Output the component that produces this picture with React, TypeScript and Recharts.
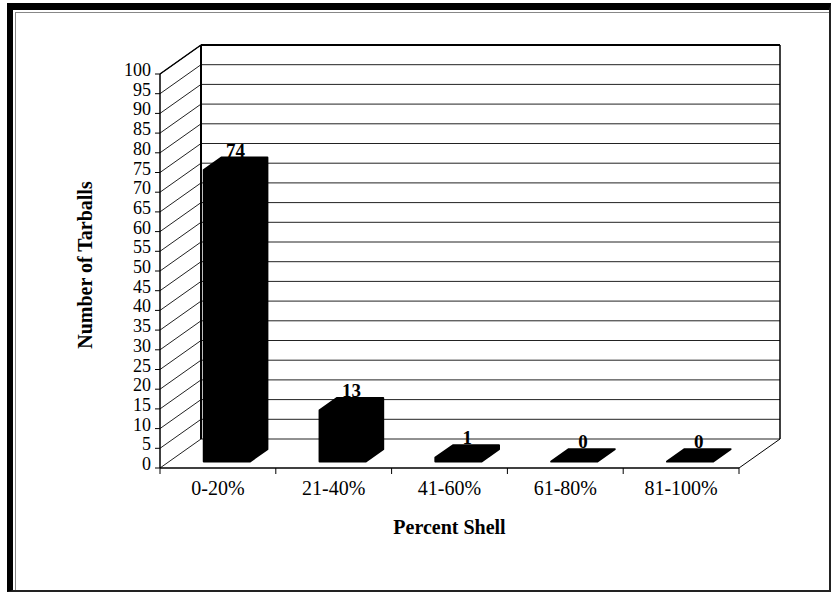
import React from 'react'
import {
  BarChart,
  Bar,
  XAxis,
  YAxis,
  CartesianGrid,
  ReferenceArea,
  LabelList,
  Label,
} from 'recharts'

// values
const categories = ['0-20%', '21-40%', '41-60%', '61-80%', '81-100%']
const tarballs = [74, 13, 1, 0, 0]
const yTicks = [0, 5, 10, 15, 20, 25, 30, 35, 40, 45, 50, 55, 60, 65, 70, 75, 80, 85, 90, 95, 100]

const data = categories.map((c, i) => ({ range: c, count: tarballs[i] }))

const W = 832
const H = 594
const MARGIN = { top: 74, right: 93, bottom: 56, left: 70 }
const Y_AXIS_W = 90
const PLOT_W = W - MARGIN.left - MARGIN.right - Y_AXIS_W
const BAND = PLOT_W / categories.length

// 3D look: depth offset of the back wall, and where the bars sit in depth
const DX = 41
const DY = 29
const FRONT = 0.22
const BACK = 0.65

const FONT = '"Liberation Serif", "Times New Roman", serif'

function Bar3D(props: any) {
  const { x, y, width, height } = props
  const base = y + height
  const fx = FRONT * DX, fy = FRONT * DY
  const bx = BACK * DX, by = BACK * DY
  const pts = [
    [x + fx, base - fy],
    [x + width + fx, base - fy],
    [x + width + bx, base - by],
    [x + width + bx, y - by],
    [x + bx, y - by],
    [x + fx, y - fy],
  ]
    .map(p => p.join(','))
    .join(' ')
  return <polygon points={pts} fill="#000" stroke="#000" strokeWidth={2} strokeLinejoin="round" />
}

// side wall diagonal + back wall line for every y tick
function GridLine(props: any) {
  const { x1, y1, x2 } = props
  return (
    <polyline
      points={`${x1},${y1} ${x1 + DX},${y1 - DY} ${x2 + DX},${y1 - DY}`}
      fill="none"
      stroke="#222"
      strokeWidth={1}
    />
  )
}

function Walls(props: any) {
  const { x, y, width, height } = props
  const bottom = y + height
  return (
    <g stroke="#000" fill="none">
      <line x1={x + DX} y1={y - DY} x2={x + width + DX} y2={y - DY} strokeWidth={2} />
      <line x1={x + DX} y1={y - DY} x2={x + DX} y2={bottom - DY} strokeWidth={2} />
      <line x1={x + width + DX} y1={y - DY} x2={x + width + DX} y2={bottom - DY} strokeWidth={1.5} />
      <line x1={x} y1={y} x2={x + DX} y2={y - DY} strokeWidth={1.5} />
      <line x1={x + width} y1={bottom} x2={x + width + DX} y2={bottom - DY} strokeWidth={1} />
    </g>
  )
}

function YTick(props: any) {
  const { x, y, payload } = props
  return (
    <text x={x} y={y + 2} textAnchor="end" fontFamily={FONT} fontSize={18} fill="#000">
      {payload.value}
    </text>
  )
}

function XTick(props: any) {
  const { x, y, payload, index } = props
  const left = x - BAND / 2
  return (
    <g>
      <line x1={left} y1={y} x2={left} y2={y + 6} stroke="#000" />
      {index === categories.length - 1 && (
        <line x1={left + BAND} y1={y} x2={left + BAND} y2={y + 6} stroke="#000" />
      )}
      <text x={x} y={y + 27} textAnchor="middle" fontFamily={FONT} fontSize={20} fill="#000">
        {payload.value}
      </text>
    </g>
  )
}

function ValueLabel(props: any) {
  const { x, y, width, value } = props
  const mid = (FRONT + BACK) / 2
  return (
    <text
      x={x + width / 2 + mid * DX}
      y={y - mid * DY - 7}
      textAnchor="middle"
      fontFamily={FONT}
      fontSize={19}
      fontWeight="bold"
      fill="#000"
    >
      {value}
    </text>
  )
}

export default function App() {
  return (
    <div style={{ position: 'absolute', left: 0, top: 0, width: W, height: H, background: '#fff' }}>
      <BarChart width={W} height={H} data={data} margin={MARGIN} barCategoryGap="30%">
        <CartesianGrid vertical={false} horizontal={GridLine} />
        <ReferenceArea y1={0} y2={100} shape={Walls} fill="none" />
        <XAxis
          dataKey="range"
          tickLine={false}
          tickSize={0}
          tickMargin={0}
          tick={XTick}
          height={70}
          axisLine={{ stroke: '#000', strokeWidth: 1.5 }}
          interval={0}
        >
          <Label
            content={({ viewBox }: any) => (
              <text
                x={viewBox.x + viewBox.width / 2}
                y={viewBox.y + 66}
                textAnchor="middle"
                fontFamily={FONT}
                fontSize={20}
                fontWeight="bold"
                fill="#000"
              >
                Percent Shell
              </text>
            )}
          />
        </XAxis>
        <YAxis
          width={Y_AXIS_W}
          domain={[0, 100]}
          ticks={yTicks}
          interval={0}
          tickSize={5}
          tickMargin={4}
          tick={YTick}
          tickLine={{ stroke: '#000' }}
          axisLine={{ stroke: '#000', strokeWidth: 1.5 }}
        >
          <Label
            content={({ viewBox }: any) => {
              const cx = viewBox.x + 15
              const cy = viewBox.y + viewBox.height / 2 - 6
              return (
                <text
                  x={cx}
                  y={cy}
                  transform={`rotate(-90 ${cx} ${cy})`}
                  textAnchor="middle"
                  dominantBaseline="central"
                  fontFamily={FONT}
                  fontSize={20}
                  fontWeight="bold"
                  fill="#000"
                >
                  Number of Tarballs
                </text>
              )
            }}
          />
        </YAxis>
        <Bar dataKey="count" fill="#000" shape={Bar3D} isAnimationActive={false}>
          <LabelList dataKey="count" content={ValueLabel} />
        </Bar>
      </BarChart>
      {/* scanned page frame */}
      <div
        style={{
          position: 'absolute',
          left: 7,
          top: 3,
          width: 824,
          height: 589,
          boxSizing: 'border-box',
          borderTop: '7px solid #000',
          borderLeft: '6px solid #000',
          borderRight: '2px solid #222',
          borderBottom: '2px solid #222',
          pointerEvents: 'none',
        }}
      >
        <div
          style={{
            position: 'absolute',
            left: 2,
            top: 2,
            right: 0,
            bottom: 0,
            borderTop: '1px solid #888',
            borderLeft: '1px solid #888',
          }}
        />
      </div>
    </div>
  )
}
